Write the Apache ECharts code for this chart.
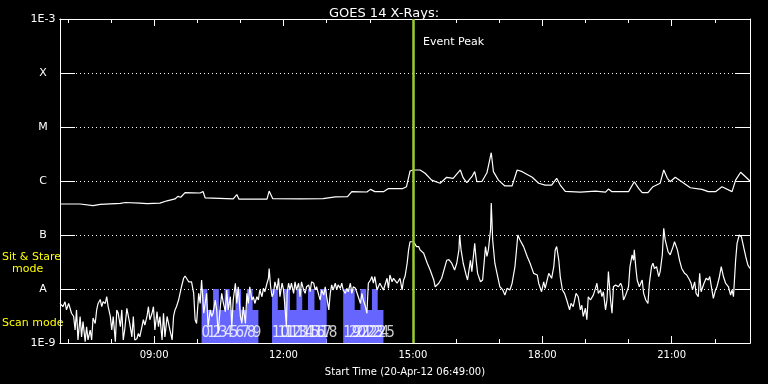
<!DOCTYPE html>
<html>
<head>
<meta charset="utf-8">
<title>GOES 14 X-Rays</title>
<script src="https://cdn.jsdelivr.net/npm/echarts@6/dist/echarts.min.js"></script>
<style>
  html, body { margin: 0; padding: 0; background: #000; }
  #chart { width: 768px; height: 384px; }
</style>
</head>
<body>
<div id="chart"></div>
<script>
// x: minutes after 00:00 UT on 20-Apr-12, y: flux in W/m^2
var startMinute = 409;   // 06:49
var endMinute = 1369;    // 22:49
var hourTicks = [420, 480, 540, 600, 660, 720, 780, 840, 900, 960, 1020, 1080, 1140, 1200, 1260, 1320];
var majorTicks = [540, 720, 900, 1080, 1260];
var classNames = { '-9': '1E-9', '-8': 'A', '-7': 'B', '-6': 'C', '-5': 'M', '-4': 'X', '-3': '1E-3' };
var eventPeak = 900;

// 1-8 A channel
var longChannel = [[409,3.75e-7],[437,3.75e-7],[455,3.5e-7],[465,3.7e-7],[493,3.85e-7],[500,4.0e-7],[520,3.9e-7],
  [530,3.8e-7],[548,3.9e-7],[558,4.3e-7],[569,4.65e-7],[573,5.2e-7],[577,5.0e-7],[583,6.1e-7],[604,6.0e-7],
  [608,6.4e-7],[611,4.85e-7],[650,4.65e-7],[655,5.6e-7],[658,4.6e-7],[697,4.6e-7],[700,6.5e-7],[705,4.7e-7],
  [743,4.65e-7],[775,4.7e-7],[792,5.1e-7],[809,5.15e-7],[815,6.35e-7],[836,6.25e-7],[841,7.0e-7],[847,6.35e-7],
  [859,6.35e-7],[866,7.25e-7],[886,7.25e-7],[891,7.8e-7],[896,1.53e-6],[900,1.6e-6],[910,1.6e-6],[917,1.39e-6],
  [926,1.04e-6],[938,9.1e-7],[947,1.17e-6],[956,1.12e-6],[966,1.6e-6],[970,1.14e-6],[975,9.3e-7],[982,1.2e-6],
  [986,1.49e-6],[989,9.7e-7],[996,9.8e-7],[1003,1.42e-6],[1009,3.34e-6],[1012,1.49e-6],[1019,1.04e-6],[1028,8.1e-7],
  [1038,8.1e-7],[1045,1.6e-6],[1052,1.49e-6],[1066,1.17e-6],[1075,9.1e-7],[1084,8.4e-7],[1093,8.4e-7],[1100,1.12e-6],
  [1105,8.4e-7],[1112,6.4e-7],[1133,6.2e-7],[1154,6.5e-7],[1168,6.2e-7],[1172,7.1e-7],[1177,6.35e-7],[1200,6.35e-7],
  [1202,5.95e-7],[1208,9.7e-7],[1214,7.3e-7],[1219,6.1e-7],[1227,6.1e-7],[1234,7.85e-7],[1244,9.1e-7],[1249,1.6e-6],
  [1254,1.12e-6],[1258,9.7e-7],[1265,1.17e-6],[1274,9.7e-7],[1286,7.5e-7],[1302,7.0e-7],[1311,6.35e-7],[1321,6.35e-7],
  [1330,7.85e-7],[1344,6.35e-7],[1349,1.04e-6],[1356,1.45e-6],[1369,1.0e-6]];

// 0.5-4 A channel
var shortChannel = [[409,5.4e-9],[413,4.7e-9],[416,5.8e-9],[418,4.1e-9],[421,5.4e-9],[423,4.4e-9],[425,3.55e-9],
  [428,3.1e-9],[430,1.74e-9],[432,4.1e-9],[434,1.14e-9],[437,3.1e-9],[439,1.3e-9],[441,2.5e-9],[444,1.06e-9],
  [446,2.0e-9],[448,1.14e-9],[451,1.74e-9],[453,1.14e-9],[455,2.9e-9],[458,2.3e-9],[460,4.1e-9],[462,5.4e-9],
  [465,6.4e-9],[467,4.7e-9],[469,5.8e-9],[472,5.4e-9],[474,7.2e-9],[476,4.7e-9],[479,3.1e-9],[481,1.74e-9],
  [483,3.1e-9],[486,1.06e-9],[488,4.1e-9],[490,3.55e-9],[493,2.0e-9],[495,4.1e-9],[497,1.14e-9],[499,1.74e-9],
  [502,4.4e-9],[504,4.1e-9],[506,2.3e-9],[509,1.3e-9],[511,3.1e-9],[513,1.14e-9],[516,1.2e-9],[518,1.5e-9],
  [520,1.3e-9],[523,2.0e-9],[525,2.7e-9],[527,2.15e-9],[530,3.1e-9],[532,4.7e-9],[534,2.7e-9],[537,3.55e-9],
  [539,4.7e-9],[541,1.74e-9],[544,3.8e-9],[546,2.0e-9],[548,3.1e-9],[551,1.14e-9],[553,3.55e-9],[555,1.3e-9],
  [558,3.1e-9],[560,2.3e-9],[562,1.74e-9],[565,1.14e-9],[567,3.1e-9],[569,4.1e-9],[571,4.7e-9],[574,6.25e-9],
  [576,8.3e-9],[578,1.1e-8],[581,1.58e-8],[583,1.74e-8],[585,1.58e-8],[588,1.36e-8],[590,1.28e-8],[592,1.36e-8],
  [595,8.3e-9],[597,2.7e-9],[599,2.3e-9],[602,8.3e-9],[604,5.4e-9],[606,1.47e-8],[609,3.55e-9],[611,5.4e-9],
  [613,8.3e-9],[615,2.0e-9],[618,4.1e-9],[620,3.1e-9],[622,3.55e-9],[625,6.25e-9],[627,4.1e-9],[629,1.5e-9],
  [632,4.7e-9],[634,8.3e-9],[636,5.8e-9],[639,3.8e-9],[641,9.6e-9],[643,4.1e-9],[646,7.2e-9],[648,2.0e-9],
  [650,6.25e-9],[653,1.28e-8],[655,5.4e-9],[657,1.1e-8],[660,3.1e-9],[662,2.3e-9],[664,4.7e-9],[667,2.3e-9],
  [669,8.3e-9],[671,5.4e-9],[673,1.1e-8],[676,6.25e-9],[678,7.2e-9],[680,5.4e-9],[683,7.2e-9],[685,6.25e-9],
  [687,9.6e-9],[690,7.2e-9],[692,1.03e-8],[694,8.9e-9],[697,1.28e-8],[699,1.58e-8],[700,2.4e-8],[702,1.1e-8],
  [704,7.2e-9],[706,8.3e-9],[708,1.36e-8],[711,9.6e-9],[713,1.58e-8],[715,7.2e-9],[718,1.28e-8],[720,9.6e-9],
  [722,4.7e-9],[724,2.0e-9],[725,8.3e-9],[727,1.28e-8],[729,9.6e-9],[731,1.28e-8],[734,8.3e-9],[736,1.36e-8],
  [738,9.6e-9],[741,1.28e-8],[743,7.2e-9],[745,1.36e-8],[748,9.6e-9],[750,8.3e-9],[752,1.1e-8],[755,1.19e-8],
  [757,8.9e-9],[759,1.36e-8],[762,1.28e-8],[764,9.6e-9],[766,1.1e-8],[769,7.7e-9],[771,6.25e-9],[773,9.6e-9],
  [776,7.7e-9],[778,1.1e-8],[780,7.2e-9],[783,4.1e-9],[785,8.3e-9],[787,1.19e-8],[789,9.6e-9],[792,1.28e-8],
  [794,9.6e-9],[796,1.19e-8],[799,1.03e-8],[801,1.28e-8],[803,9.6e-9],[806,8.3e-9],[808,1.03e-8],[810,8.9e-9],
  [813,1.28e-8],[815,8.3e-9],[817,1.1e-8],[820,1.03e-8],[822,9.6e-9],[824,7.2e-9],[827,5.4e-9],[829,8.3e-9],
  [831,6.25e-9],[834,4.7e-9],[836,3.55e-9],[838,1.28e-8],[841,1.47e-8],[843,1.7e-8],[845,1.28e-8],[847,1.7e-8],
  [850,9.6e-9],[854,1.28e-8],[859,9.6e-9],[864,1.58e-8],[866,1.03e-8],[868,1.82e-8],[871,1.36e-8],[873,1.58e-8],
  [878,1.28e-8],[882,1.58e-8],[885,9.6e-9],[887,1.47e-8],[889,1.7e-8],[892,3.0e-8],[894,5.3e-8],[896,7.5e-8],
  [901,7.5e-8],[903,7.5e-8],[905,6.1e-8],[908,6.1e-8],[910,5.3e-8],[915,4.6e-8],[920,3.0e-8],[924,2.25e-8],
  [929,1.47e-8],[931,1.1e-8],[936,1.28e-8],[940,1.58e-8],[947,3.4e-8],[950,3.5e-8],[954,3.0e-8],[958,2.25e-8],
  [961,3.0e-8],[964,5.3e-8],[965,1.0e-7],[967,5.3e-8],[970,3.0e-8],[974,1.82e-8],[976,1.47e-8],[980,3.4e-8],
  [982,2.1e-8],[986,7.0e-8],[988,3.4e-8],[990,1.95e-8],[994,1.36e-8],[997,1.47e-8],[1001,6.1e-8],[1003,4.0e-8],
  [1005,5.3e-8],[1008,1.24e-7],[1009,3.9e-7],[1011,8.1e-8],[1014,3.0e-8],[1017,1.95e-8],[1021,1.1e-8],[1025,9.6e-9],
  [1028,7.7e-9],[1031,1.03e-8],[1035,9.6e-9],[1038,1.28e-8],[1042,2.6e-8],[1046,1.0e-7],[1049,8.1e-8],[1054,6.1e-8],
  [1059,4.0e-8],[1063,3.0e-8],[1068,1.95e-8],[1073,1.82e-8],[1075,1.28e-8],[1079,8.9e-9],[1082,1.36e-8],[1084,1.03e-8],
  [1089,1.95e-8],[1093,1.58e-8],[1096,2.6e-8],[1098,5.3e-8],[1100,6.1e-8],[1103,3.4e-8],[1105,1.7e-8],[1108,9.6e-9],
  [1111,8.3e-9],[1114,6.25e-9],[1118,4.1e-9],[1120,5.4e-9],[1123,4.7e-9],[1127,8.3e-9],[1130,7.2e-9],[1133,4.1e-9],
  [1135,5.0e-9],[1137,3.1e-9],[1140,4.4e-9],[1142,2.7e-9],[1144,7.2e-9],[1147,6.25e-9],[1151,7.7e-9],[1154,1.03e-8],
  [1156,1.28e-8],[1158,8.3e-9],[1161,9.6e-9],[1163,7.2e-9],[1165,8.9e-9],[1168,4.1e-9],[1170,6.25e-9],[1172,2.1e-8],
  [1175,6.25e-9],[1177,3.55e-9],[1179,1.1e-8],[1182,1.19e-8],[1186,1.1e-8],[1189,1.28e-8],[1191,1.1e-8],[1193,6.25e-9],
  [1196,7.7e-9],[1198,8.3e-9],[1200,1.1e-8],[1202,2.6e-8],[1205,4.3e-8],[1207,3.4e-8],[1208,5.3e-8],[1210,2.6e-8],
  [1212,1.47e-8],[1215,1.1e-8],[1217,1.28e-8],[1219,1.47e-8],[1221,8.3e-9],[1224,6.25e-9],[1227,5.4e-9],[1229,1.28e-8],
  [1232,2.6e-8],[1234,3.0e-8],[1236,2.4e-8],[1239,2.6e-8],[1242,1.7e-8],[1244,2.1e-8],[1247,4.3e-8],[1249,1.33e-7],
  [1251,8.1e-8],[1255,4.9e-8],[1258,4.3e-8],[1262,6.1e-8],[1264,7.5e-8],[1268,5.3e-8],[1271,3.4e-8],[1274,2.4e-8],
  [1278,1.95e-8],[1281,1.82e-8],[1285,1.47e-8],[1287,1.28e-8],[1289,9.6e-9],[1292,1.36e-8],[1294,8.3e-9],[1297,7.2e-9],
  [1299,1.95e-8],[1301,8.9e-9],[1305,1.28e-8],[1308,1.58e-8],[1311,1.47e-8],[1313,1.7e-8],[1316,9.6e-9],[1318,6.7e-9],
  [1321,9.6e-9],[1323,1.1e-8],[1326,1.58e-8],[1329,2.6e-8],[1332,1.7e-8],[1335,1.28e-8],[1339,1.1e-8],[1342,7.7e-9],
  [1344,9.6e-9],[1346,7.2e-9],[1349,3.4e-8],[1351,7.0e-8],[1354,1.0e-7],[1357,9.3e-8],[1360,6.1e-8],[1363,4.0e-8],
  [1366,2.8e-8],[1369,2.4e-8]];

// SXI image sequence: start / end minute and observing mode
var imageStart = [606, 614, 622, 630, 638, 645, 653, 661, 669, 677,
  704, 712, 721, 729, 738, 746, 754, 763, 771,
  803, 811, 819, 827, 835, 843, 851];
var imageEnd = [614, 622, 630, 638, 645, 653, 661, 669, 677, 685,
  712, 721, 729, 738, 746, 754, 763, 771, 780,
  811, 819, 827, 835, 843, 851, 859];
var imageMode = ['stare', 'scan', 'stare', 'scan', 'stare', 'scan', 'stare', 'scan', 'stare', 'scan',
  'stare', 'scan', 'stare', 'scan', 'stare', 'scan', 'stare', 'scan', 'stare',
  'stare', 'stare', 'scan', 'stare', 'scan', 'stare', 'scan'];
var modeLevel = { stare: 1e-8, scan: 4.1e-9 };
var imageLabelLevel = 1.5e-9;

var font = "'DejaVu Sans', sans-serif";

var modeData = [];
imageStart.forEach(function (t, i) {
  var lv = modeLevel[imageMode[i]];
  modeData.push([t, lv], [imageEnd[i], lv]);
  if (i + 1 < imageStart.length && imageStart[i + 1] !== imageEnd[i]) {
    modeData.push([imageEnd[i], '-']);
  }
});
var imageLabels = imageStart.map(function (t, i) { return [t, imageLabelLevel, i]; });

function clock(m) {
  var h = Math.floor(m / 60), mm = m % 60;
  return (h < 10 ? '0' : '') + h + ':' + (mm < 10 ? '0' : '') + mm;
}

var chart = echarts.init(document.getElementById('chart'));

var xBase = function (pos, ticks, len) {
  return {
    type: 'value', position: pos, min: startMinute, max: endMinute,
    axisLine: { show: true, lineStyle: { color: '#fff', width: 1 } },
    axisTick: { show: true, inside: true, length: len, customValues: ticks, lineStyle: { color: '#fff' } },
    axisLabel: { show: false },
    splitLine: { show: false }
  };
};
var xMain = xBase('bottom', majorTicks, 7);
xMain.axisLabel = {
  show: true, customValues: majorTicks, color: '#fff', fontSize: 10, fontFamily: font, margin: 7,
  formatter: function (v) { return clock(v); }
};
xMain.name = 'Start Time (20-Apr-12 06:49:00)';
xMain.nameLocation = 'middle';
xMain.nameGap = 24;
xMain.nameTextStyle = { color: '#fff', fontSize: 10, fontFamily: font };

var yBase = function (pos, labels) {
  return {
    type: 'log', logBase: 10, position: pos, min: 1e-9, max: 1e-3,
    axisLine: { show: true, lineStyle: { color: '#fff', width: 1 } },
    axisTick: { show: true, inside: true, length: 15, lineStyle: { color: '#fff' } },
    splitLine: { show: labels, lineStyle: { color: '#fff', type: [1, 3], width: 1 } },
    axisLabel: {
      show: labels, color: '#fff', fontSize: 11, fontFamily: font, align: 'center', margin: 17,
      formatter: function (v) { return classNames[String(Math.round(Math.log10(v)))] || ''; }
    }
  };
};

var option = {
  backgroundColor: '#000',
  animation: false,
  title: {
    text: 'GOES 14 X-Rays:', left: 'center', top: 2,
    textStyle: { color: '#fff', fontSize: 13, fontWeight: 'normal', fontFamily: font }
  },
  grid: { left: 60, right: 18, top: 19, bottom: 41, containLabel: false, outerBoundsMode: 'none' },
  xAxis: [xMain, xBase('bottom', hourTicks, 4), xBase('top', majorTicks, 7), xBase('top', hourTicks, 4)],
  yAxis: [yBase('left', true), yBase('right', false)],
  graphic: [
    { type: 'text', left: 423, top: 37, style: { text: 'Event Peak', fill: '#fff', font: '11px ' + font } },
    { type: 'text', left: 2, top: 252, style: { text: 'Sit & Stare', fill: '#ffff00', font: '11px ' + font } },
    { type: 'text', left: 12, top: 264, style: { text: 'mode', fill: '#ffff00', font: '11px ' + font } },
    { type: 'text', left: 2, top: 318, style: { text: 'Scan mode', fill: '#ffff00', font: '11px ' + font } }
  ],
  series: [
    {
      name: 'SXI mode', type: 'line', data: modeData, showSymbol: false, connectNulls: false,
      lineStyle: { width: 0 }, areaStyle: { color: '#6666ff', opacity: 1, origin: 'start' }, z: 1
    },
    {
      name: 'Image', type: 'scatter', data: imageLabels, symbolSize: 0, z: 2,
      label: {
        show: true, position: 'right', distance: 0, color: '#fff', fontSize: 15,
        fontFamily: "'Liberation Sans Narrow', 'DejaVu Sans Condensed', sans-serif",
        formatter: function (p) { return String(p.data[2]); }
      }
    },
    {
      name: '1-8 A', type: 'line', data: longChannel, showSymbol: false, clip: true, z: 3,
      lineStyle: { color: '#fff', width: 1.2 },
      markLine: {
        silent: true, symbol: 'none', label: { show: false },
        lineStyle: { color: '#9acd32', width: 2.5, type: 'solid' },
        data: [{ xAxis: eventPeak }]
      }
    },
    {
      name: '0.5-4 A', type: 'line', data: shortChannel, showSymbol: false, clip: true, z: 3,
      lineStyle: { color: '#fff', width: 1.2 }
    }
  ]
};
chart.setOption(option);
</script>
</body>
</html>
